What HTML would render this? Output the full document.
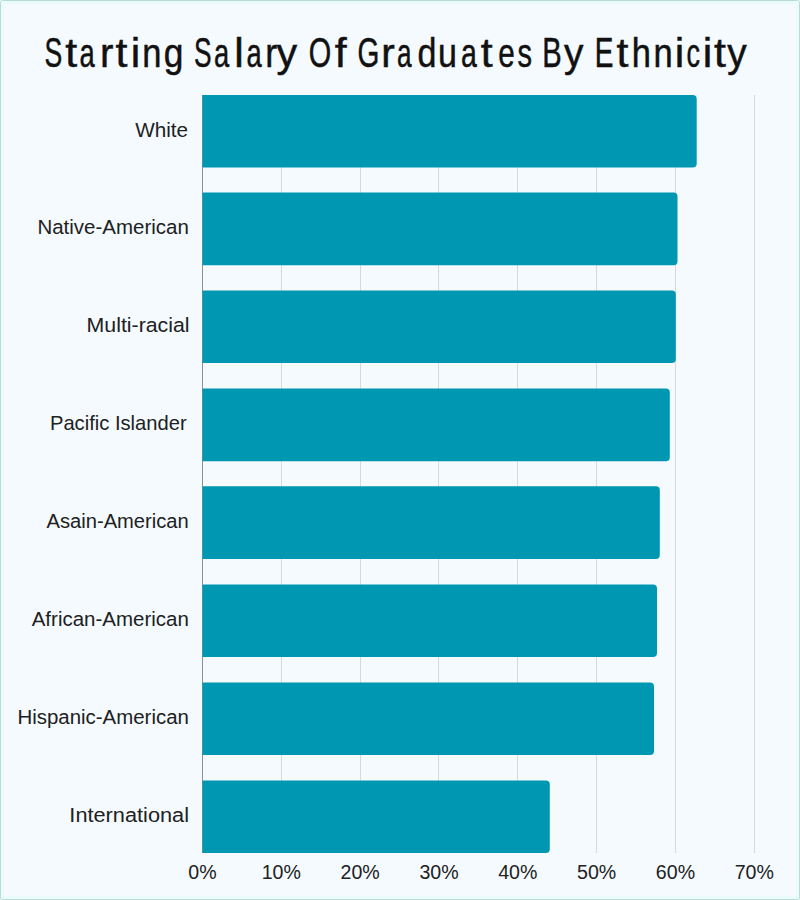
<!DOCTYPE html>
<html><head><meta charset="utf-8">
<style>
html,body{margin:0;padding:0;}
body{width:800px;height:900px;overflow:hidden;background:#f5fafe;}
svg{display:block;}
.lab{font-family:"Liberation Sans",sans-serif;font-size:19.5px;fill:#202122;}
.ax{font-family:"Liberation Sans",sans-serif;font-size:19.6px;fill:#202122;}
.title{font-family:"Liberation Sans",sans-serif;font-size:40.8px;fill:#111;stroke:#111;stroke-width:0.5px;}
</style></head>
<body>
<svg width="800" height="900" viewBox="0 0 800 900">
<rect x="0" y="0" width="800" height="900" fill="#f5fafe"/>
<rect x="3.5" y="3.5" width="793" height="893" fill="none" stroke="#eefafa" stroke-width="1"/>
<rect x="2" y="2" width="796" height="896" fill="none" stroke="#e6fdfc" stroke-width="2"/>
<rect x="0.5" y="0.5" width="799" height="899" rx="2" fill="none" stroke="#bcd9d6" stroke-width="1"/>
<text transform="matrix(0.6521,0,0,1.06,44.62,66.6)" class="title">S</text>
<text transform="matrix(1.0500,0,0,1.0,65.21,66.6)" class="title">t</text>
<text transform="matrix(0.6698,0,0,1.0,79.60,66.6)" class="title">a</text>
<text transform="matrix(0.9860,0,0,1.0,100.03,66.6)" class="title">r</text>
<text transform="matrix(1.0500,0,0,1.0,115.46,66.6)" class="title">t</text>
<text transform="matrix(1.0500,0,0,1.0,130.68,66.6)" class="title">i</text>
<text transform="matrix(0.8451,0,0,1.0,142.29,66.6)" class="title">n</text>
<text transform="matrix(0.8667,0,0,1.0,163.70,66.6)" class="title">g</text>
<text transform="matrix(0.6458,0,0,1.06,194.03,66.6)" class="title">S</text>
<text transform="matrix(0.6698,0,0,1.0,214.00,66.6)" class="title">a</text>
<text transform="matrix(1.0500,0,0,1.0,234.35,66.6)" class="title">l</text>
<text transform="matrix(0.6698,0,0,1.0,246.50,66.6)" class="title">a</text>
<text transform="matrix(0.8744,0,0,1.0,265.31,66.6)" class="title">r</text>
<text transform="matrix(1.0119,0,0,1.0,276.50,66.6)" class="title">y</text>
<text transform="matrix(0.7080,0,0,1.06,308.76,66.6)" class="title">O</text>
<text transform="matrix(1.0500,0,0,1.0,334.65,66.6)" class="title">f</text>
<text transform="matrix(0.6881,0,0,1.06,357.55,66.6)" class="title">G</text>
<text transform="matrix(0.9953,0,0,1.0,381.31,66.6)" class="title">r</text>
<text transform="matrix(0.6419,0,0,1.0,397.04,66.6)" class="title">a</text>
<text transform="matrix(0.8347,0,0,1.0,417.50,66.6)" class="title">d</text>
<text transform="matrix(0.8333,0,0,1.0,438.12,66.6)" class="title">u</text>
<text transform="matrix(0.6977,0,0,1.0,460.95,66.6)" class="title">a</text>
<text transform="matrix(1.0500,0,0,1.0,480.81,66.6)" class="title">t</text>
<text transform="matrix(0.7266,0,0,1.0,498.31,66.6)" class="title">e</text>
<text transform="matrix(0.7108,0,0,1.0,517.57,66.6)" class="title">s</text>
<text transform="matrix(0.7146,0,0,1.06,542.26,66.6)" class="title">B</text>
<text transform="matrix(0.9524,0,0,1.0,563.99,66.6)" class="title">y</text>
<text transform="matrix(0.6857,0,0,1.06,594.84,66.6)" class="title">E</text>
<text transform="matrix(1.0500,0,0,1.0,616.46,66.6)" class="title">t</text>
<text transform="matrix(0.8451,0,0,1.0,631.64,66.6)" class="title">h</text>
<text transform="matrix(0.8451,0,0,1.0,653.49,66.6)" class="title">n</text>
<text transform="matrix(1.0500,0,0,1.0,674.67,66.6)" class="title">i</text>
<text transform="matrix(0.6611,0,0,1.0,686.51,66.6)" class="title">c</text>
<text transform="matrix(1.0500,0,0,1.0,702.77,66.6)" class="title">i</text>
<text transform="matrix(1.0500,0,0,1.0,713.96,66.6)" class="title">t</text>
<text transform="matrix(0.9524,0,0,1.0,727.14,66.6)" class="title">y</text>
<rect x="281" y="95" width="1" height="758" fill="#d5d9dc"/>
<rect x="360" y="95" width="1" height="758" fill="#d5d9dc"/>
<rect x="438" y="95" width="1" height="758" fill="#d5d9dc"/>
<rect x="517" y="95" width="1" height="758" fill="#d5d9dc"/>
<rect x="596" y="95" width="1" height="758" fill="#d5d9dc"/>
<rect x="675" y="95" width="1" height="758" fill="#d5d9dc"/>
<rect x="754" y="95" width="1" height="758" fill="#d5d9dc"/>
<rect x="202.0" y="95" width="1" height="758" fill="#8d8f91"/>
<path d="M202.5 95 H692.70 Q696.70 95 696.70 99.00 V163.60 Q696.70 167.60 692.70 167.60 H202.5 Z" fill="#0097b3"/>
<path d="M202.5 192.6 H673.50 Q677.50 192.6 677.50 196.60 V261.20 Q677.50 265.20 673.50 265.20 H202.5 Z" fill="#0097b3"/>
<path d="M202.5 290.5 H671.80 Q675.80 290.5 675.80 294.50 V359.10 Q675.80 363.10 671.80 363.10 H202.5 Z" fill="#0097b3"/>
<path d="M202.5 388.6 H665.80 Q669.80 388.6 669.80 392.60 V457.20 Q669.80 461.20 665.80 461.20 H202.5 Z" fill="#0097b3"/>
<path d="M202.5 486.3 H655.80 Q659.80 486.3 659.80 490.30 V554.90 Q659.80 558.90 655.80 558.90 H202.5 Z" fill="#0097b3"/>
<path d="M202.5 584.4 H653.00 Q657.00 584.4 657.00 588.40 V653.00 Q657.00 657.00 653.00 657.00 H202.5 Z" fill="#0097b3"/>
<path d="M202.5 682.4 H650.00 Q654.00 682.4 654.00 686.40 V751.00 Q654.00 755.00 650.00 755.00 H202.5 Z" fill="#0097b3"/>
<path d="M202.5 780.4 H545.80 Q549.80 780.4 549.80 784.40 V849.00 Q549.80 853.00 545.80 853.00 H202.5 Z" fill="#0097b3"/>
<text transform="matrix(1.0602,0,0,1,135.25,136.60)" class="lab">White</text>
<text transform="matrix(1.0512,0,0,1,37.42,234.20)" class="lab">Native-American</text>
<text transform="matrix(1.0940,0,0,1,86.56,332.10)" class="lab">Multi-racial</text>
<text transform="matrix(1.0345,0,0,1,49.95,430.20)" class="lab">Pacific Islander</text>
<text transform="matrix(1.0337,0,0,1,46.50,527.90)" class="lab">Asain-American</text>
<text transform="matrix(1.0516,0,0,1,31.70,626.00)" class="lab">African-American</text>
<text transform="matrix(1.0478,0,0,1,17.43,724.00)" class="lab">Hispanic-American</text>
<text transform="matrix(1.1156,0,0,1,69.35,822.00)" class="lab">International</text>
<text x="202.50" y="878.7" text-anchor="middle" class="ax">0%</text>
<text x="281.33" y="878.7" text-anchor="middle" class="ax">10%</text>
<text x="360.16" y="878.7" text-anchor="middle" class="ax">20%</text>
<text x="438.99" y="878.7" text-anchor="middle" class="ax">30%</text>
<text x="517.82" y="878.7" text-anchor="middle" class="ax">40%</text>
<text x="596.65" y="878.7" text-anchor="middle" class="ax">50%</text>
<text x="675.48" y="878.7" text-anchor="middle" class="ax">60%</text>
<text x="754.31" y="878.7" text-anchor="middle" class="ax">70%</text>
</svg>
</body></html>
